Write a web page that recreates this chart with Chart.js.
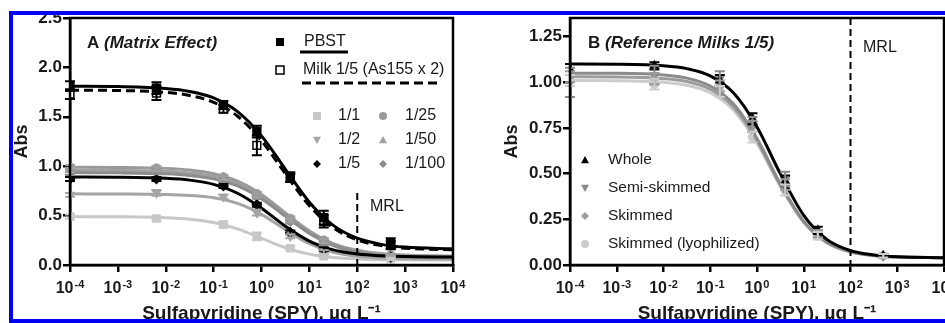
<!DOCTYPE html>
<html>
<head>
<meta charset="utf-8">
<script src="https://cdn.jsdelivr.net/npm/chart.js@4.4.1/dist/chart.umd.min.js"></script>
<style>
html, body { margin: 0; padding: 0; background: #fff; width: 945px; height: 323px; overflow: hidden; }
canvas { position: absolute; top: 0; }
#frame { position: absolute; left: 9px; top: 11px; width: 960px; height: 312px; border: 4px solid #0000f5; box-sizing: border-box; }
#cover { position: absolute; left: 0; top: 0; width: 945px; height: 11px; background: #fff; }
</style>
</head>
<body>
<canvas id="chartA" width="470" height="323" style="left:0"></canvas>
<canvas id="chartB" width="480" height="323" style="left:470px"></canvas>
<div id="cover"></div>
<div id="frame"></div>
<script>
"use strict";

// concentrations (µg/L)
const xTicks = [1e-4, 1e-3, 1e-2, 1e-1, 1, 10, 100, 1000, 10000];
const yTicksA = [0, 0.5, 1.0, 1.5, 2.0, 2.5];
const yTicksB = [0, 0.25, 0.5, 0.75, 1.0, 1.25];
const pointX = [1e-4, 0.0064, 0.16, 0.8, 4, 20, 500];
const curveX = [1e-4, 1e-3, 1e-2, 0.0316, 0.1, 0.316, 1, 3.16, 10, 31.6, 100, 316, 1000, 10000];
const mrl = 100;

// panel A - matrix effect
const fitPBST = [1.81, 1.806, 1.787, 1.757, 1.691, 1.552, 1.307, 0.969, 0.636, 0.401, 0.271, 0.209, 0.181, 0.164];
const fitMilk = [1.769, 1.766, 1.747, 1.716, 1.647, 1.506, 1.258, 0.923, 0.600, 0.376, 0.254, 0.196, 0.170, 0.154];
const fit1_1 = [0.490, 0.488, 0.479, 0.464, 0.430, 0.365, 0.270, 0.175, 0.110, 0.076, 0.061, 0.054, 0.052, 0.050];
const fit1_2 = [0.720, 0.719, 0.714, 0.704, 0.680, 0.623, 0.512, 0.357, 0.215, 0.128, 0.088, 0.071, 0.064, 0.061];
const fit1_5 = [0.890, 0.888, 0.877, 0.859, 0.816, 0.726, 0.575, 0.392, 0.242, 0.153, 0.111, 0.093, 0.085, 0.080];
const fit1_25 = [0.990, 0.988, 0.978, 0.961, 0.924, 0.848, 0.713, 0.526, 0.343, 0.213, 0.141, 0.107, 0.092, 0.082];
const fit1_50 = [0.960, 0.958, 0.948, 0.932, 0.897, 0.824, 0.695, 0.516, 0.341, 0.217, 0.149, 0.116, 0.101, 0.092];
const fit1_100 = [0.935, 0.933, 0.923, 0.907, 0.872, 0.800, 0.671, 0.494, 0.319, 0.196, 0.128, 0.096, 0.081, 0.072];

const ptsPBST = [1.81, 1.79, 1.62, 1.35, 0.89, 0.48, 0.22];
const errPBST = [0.05, 0.06, 0.04, 0.06, 0.05, 0.07, 0.05];
const ptsMilk = [1.73, 1.74, 1.58, 1.21, 0.88, 0.44, 0.20];
const errMilk = [0.05, 0.07, 0.04, 0.10, 0.04, 0.06, 0.04];
const pts1_1 = [0.49, 0.47, 0.41, 0.29, 0.17, 0.09, 0.06];
const err1_1 = [0.02, 0.02, 0.03, 0.04, 0.02, 0.02, 0.01];
const pts1_2 = [0.71, 0.73, 0.69, 0.53, 0.29, 0.13, 0.07];
const err1_2 = [0.02, 0.03, 0.02, 0.03, 0.02, 0.02, 0.01];
const pts1_5 = [0.87, 0.87, 0.80, 0.61, 0.33, 0.16, 0.08];
const err1_5 = [0.02, 0.02, 0.02, 0.02, 0.02, 0.02, 0.01];
const pts1_25 = [0.99, 0.98, 0.89, 0.72, 0.47, 0.25, 0.10];
const err1_25 = [0.02, 0.02, 0.02, 0.02, 0.02, 0.02, 0.01];
const pts1_50 = [0.96, 0.97, 0.88, 0.70, 0.45, 0.24, 0.10];
const err1_50 = [0.02, 0.02, 0.02, 0.02, 0.02, 0.02, 0.01];
const pts1_100 = [0.93, 0.95, 0.86, 0.69, 0.44, 0.22, 0.09];
const err1_100 = [0.02, 0.02, 0.02, 0.02, 0.02, 0.02, 0.01];

// panel B - reference milks 1/5
const fitWhole = [1.100, 1.099, 1.091, 1.075, 1.035, 0.941, 0.756, 0.499, 0.272, 0.139, 0.079, 0.055, 0.045, 0.040];
const fitSemi = [1.050, 1.049, 1.040, 1.023, 0.980, 0.881, 0.692, 0.445, 0.239, 0.124, 0.073, 0.052, 0.045, 0.040];
const fitSkim = [1.030, 1.029, 1.020, 1.004, 0.962, 0.864, 0.680, 0.437, 0.236, 0.122, 0.072, 0.052, 0.044, 0.040];
const fitLyo = [1.010, 1.009, 1.000, 0.984, 0.943, 0.847, 0.667, 0.429, 0.232, 0.120, 0.071, 0.052, 0.044, 0.040];

const ptsWhole = [1.07, 1.09, 1.01, 0.80, 0.46, 0.19, 0.05];
const errWhole = [0.03, 0.02, 0.03, 0.03, 0.03, 0.02, 0.01];
const ptsSemi = [1.00, 1.04, 1.02, 0.77, 0.47, 0.17, 0.05];
const errSemi = [0.08, 0.05, 0.04, 0.04, 0.04, 0.02, 0.01];
const ptsSkim = [1.03, 1.02, 0.98, 0.76, 0.44, 0.17, 0.05];
const errSkim = [0.03, 0.03, 0.03, 0.03, 0.03, 0.02, 0.01];
const ptsLyo = [1.01, 0.99, 0.95, 0.70, 0.41, 0.16, 0.05];
const errLyo = [0.03, 0.03, 0.03, 0.03, 0.03, 0.02, 0.01];

const FONT = '"Liberation Sans", Arial, Helvetica, sans-serif';
const INK = '#1a1a1a';

function zip(xs, ys) {
    return xs.map((x, i) => ({x: x, y: ys[i]}));
}

function curve(ys, color, dash) {
    return {
        type: 'line', data: zip(curveX, ys), borderColor: color, borderWidth: 3,
        borderDash: dash || [], pointRadius: 0, fill: false, cubicInterpolationMode: 'monotone'
    };
}

function points(ys, errs, color, style, radius, fill, rot) {
    return {
        type: 'scatter', data: zip(pointX, ys), errs: errs, borderColor: color,
        backgroundColor: fill || color, pointStyle: style, pointRadius: radius,
        pointBorderWidth: 1.5, pointRotation: rot || 0, showLine: false
    };
}

function marker(ctx, shape, x, y, r, fill, stroke) {
    ctx.beginPath();
    if (shape === 'rect') {
        ctx.rect(x - r, y - r, 2 * r, 2 * r);
    } else if (shape === 'tri') {
        ctx.moveTo(x, y - r); ctx.lineTo(x + r, y + r * 0.8); ctx.lineTo(x - r, y + r * 0.8); ctx.closePath();
    } else if (shape === 'tridown') {
        ctx.moveTo(x, y + r); ctx.lineTo(x + r, y - r * 0.8); ctx.lineTo(x - r, y - r * 0.8); ctx.closePath();
    } else if (shape === 'diamond') {
        ctx.moveTo(x, y - r); ctx.lineTo(x + r, y); ctx.lineTo(x, y + r); ctx.lineTo(x - r, y); ctx.closePath();
    } else {
        ctx.arc(x, y, r, 0, Math.PI * 2);
    }
    ctx.fillStyle = fill;
    ctx.fill();
    if (stroke) {
        ctx.strokeStyle = stroke;
        ctx.lineWidth = 1.5;
        ctx.stroke();
    }
}

const errorBars = {
    id: 'errorBars',
    afterDatasetsDraw(chart) {
        const ctx = chart.ctx, ys = chart.scales.y;
        ctx.save();
        chart.data.datasets.forEach((ds, i) => {
            if (!ds.errs) return;
            const meta = chart.getDatasetMeta(i);
            ctx.strokeStyle = ds.borderColor;
            ctx.lineWidth = 2;
            meta.data.forEach((pt, j) => {
                const v = ds.data[j].y, e = ds.errs[j];
                const top = ys.getPixelForValue(v + e), bot = ys.getPixelForValue(v - e);
                ctx.beginPath();
                ctx.moveTo(pt.x, top); ctx.lineTo(pt.x, bot);
                ctx.moveTo(pt.x - 5, top); ctx.lineTo(pt.x + 5, top);
                ctx.moveTo(pt.x - 5, bot); ctx.lineTo(pt.x + 5, bot);
                ctx.stroke();
            });
        });
        ctx.restore();
    }
};

// frame + power-of-ten tick labels with raised exponents
const boxFrame = {
    id: 'boxFrame',
    afterDraw(chart) {
        const a = chart.chartArea, ctx = chart.ctx, xs = chart.scales.x;
        ctx.save();
        ctx.strokeStyle = '#000';
        ctx.lineWidth = 2.5;
        ctx.strokeRect(a.left, a.top, a.right - a.left, a.bottom - a.top);
        ctx.fillStyle = INK;
        ctx.textBaseline = 'alphabetic';
        ctx.textAlign = 'left';
        xTicks.forEach(v => {
            const base = '10', exp = String(Math.round(Math.log10(v)));
            ctx.font = 'bold 16px ' + FONT;
            const wb = ctx.measureText(base).width;
            ctx.font = 'bold 11px ' + FONT;
            const we = ctx.measureText(exp).width;
            const x0 = xs.getPixelForValue(v) - (wb + we + 1) / 2;
            ctx.font = 'bold 16px ' + FONT;
            ctx.fillText(base, x0, a.bottom + 28);
            ctx.font = 'bold 11px ' + FONT;
            ctx.fillText(exp, x0 + wb + 1, a.bottom + 23);
        });
        ctx.restore();
    }
};

function drawTitle(ctx, head, tail, x, y) {
    ctx.font = 'bold 17px ' + FONT;
    ctx.fillStyle = INK;
    ctx.textBaseline = 'middle';
    ctx.textAlign = 'left';
    ctx.fillText(head, x, y);
    const w = ctx.measureText(head).width;
    ctx.font = 'italic bold 17px ' + FONT;
    ctx.fillText(tail, x + w, y);
}

function drawMRL(chart, fromValue, labelX, labelY) {
    const ctx = chart.ctx;
    const px = chart.scales.x.getPixelForValue(mrl);
    const top = fromValue === null ? chart.chartArea.top : chart.scales.y.getPixelForValue(fromValue);
    ctx.save();
    ctx.strokeStyle = '#000';
    ctx.lineWidth = 2;
    ctx.setLineDash([7, 4]);
    ctx.beginPath();
    ctx.moveTo(px, top);
    ctx.lineTo(px, chart.chartArea.bottom);
    ctx.stroke();
    ctx.setLineDash([]);
    ctx.font = '16px ' + FONT;
    ctx.fillStyle = INK;
    ctx.textBaseline = 'middle';
    ctx.fillText('MRL', labelX, labelY);
    ctx.restore();
}

const decorA = {
    id: 'decorA',
    afterDraw(chart) {
        const ctx = chart.ctx;
        ctx.save();
        drawMRL(chart, 0.73, 370, 207);
        drawTitle(ctx, 'A ', '(Matrix Effect)', 87, 43);
        ctx.textBaseline = 'middle';
        marker(ctx, 'rect', 280, 42, 4, '#000');
        marker(ctx, 'rect', 280, 70, 4, '#fff', '#000');
        ctx.font = '16px ' + FONT;
        ctx.fillStyle = INK;
        ctx.fillText('PBST', 304, 42);
        ctx.fillText('Milk 1/5 (As155 x 2)', 303, 70);
        ctx.strokeStyle = '#000';
        ctx.lineWidth = 3;
        ctx.beginPath(); ctx.moveTo(300, 52); ctx.lineTo(348, 52); ctx.stroke();
        ctx.setLineDash([9, 5]);
        ctx.beginPath(); ctx.moveTo(302, 83); ctx.lineTo(442, 83); ctx.stroke();
        ctx.setLineDash([]);
        const rows = [
            ['rect', '#c8c8c8', '1/1', 'circle', '#9a9a9a', '1/25'],
            ['tridown', '#a5a5a5', '1/2', 'tri', '#a0a0a0', '1/50'],
            ['diamond', '#000', '1/5', 'diamond', '#8c8c8c', '1/100']
        ];
        rows.forEach((r, i) => {
            const y = 116 + i * 24;
            marker(ctx, r[0], 317, y, 4, r[1]);
            marker(ctx, r[3], 383, y, 4, r[4]);
            ctx.fillStyle = INK;
            ctx.fillText(r[2], 338, y);
            ctx.fillText(r[5], 405, y);
        });
        ctx.restore();
    }
};

const decorB = {
    id: 'decorB',
    afterDraw(chart) {
        const ctx = chart.ctx;
        ctx.save();
        drawMRL(chart, null, 393, 48);
        drawTitle(ctx, 'B ', '(Reference Milks 1/5)', 118, 43);
        ctx.font = '15.5px ' + FONT;
        ctx.textBaseline = 'middle';
        const rows = [
            ['tri', '#000', 'Whole'],
            ['tridown', '#8a8a8a', 'Semi-skimmed'],
            ['diamond', '#9c9c9c', 'Skimmed'],
            ['circle', '#cccccc', 'Skimmed (lyophilized)']
        ];
        const ys = [160, 188, 216, 244];
        rows.forEach((r, i) => {
            marker(ctx, r[0], 115, ys[i], 4, r[1]);
            ctx.fillStyle = INK;
            ctx.fillText(r[2], 138, ys[i]);
        });
        ctx.restore();
    }
};

function options(yMax, yTicks, decimals, yWidth, padRight, yTitlePad) {
    return {
        responsive: false,
        animation: false,
        layout: {padding: {left: 0, right: padRight, top: 18, bottom: 0}},
        plugins: {legend: {display: false}, tooltip: {enabled: false}},
        scales: {
            x: {
                type: 'logarithmic', min: 1e-4, max: 1e4,
                afterBuildTicks: s => { s.ticks = xTicks.map(v => ({value: v})); },
                afterFit: s => { s.height = 58; s.paddingLeft = 0; s.paddingRight = 0; },
                grid: {drawOnChartArea: false, drawTicks: true, tickLength: 7, color: '#000', lineWidth: 2.5},
                border: {display: true, color: '#000', width: 2.5},
                ticks: {display: false},
                title: {
                    display: true, text: 'Sulfapyridine (SPY), \u00B5g L\u207B\u00B9', color: INK,
                    font: {family: FONT, size: 19, weight: 'bold', lineHeight: 1}, padding: {top: 0, bottom: 0}
                }
            },
            y: {
                min: 0, max: yMax,
                afterBuildTicks: s => { s.ticks = yTicks.map(v => ({value: v})); },
                afterFit: s => { s.width = yWidth; s.paddingTop = 0; s.paddingBottom = 0; },
                grid: {drawOnChartArea: false, drawTicks: true, tickLength: 7, color: '#000', lineWidth: 2.5},
                border: {display: true, color: '#000', width: 2.5},
                ticks: {
                    color: INK, padding: 1,
                    font: {family: FONT, size: 17, weight: 'bold'},
                    callback: v => v.toFixed(decimals)
                },
                title: {
                    display: true, text: 'Abs', color: INK,
                    font: {family: FONT, size: 18, weight: 'bold', lineHeight: 1}, padding: {top: yTitlePad, bottom: 0}
                }
            }
        }
    };
}

new Chart(document.getElementById('chartA'), {
    data: {
        datasets: [
            curve(fitPBST, '#000'),
            curve(fitMilk, '#000', [9, 5]),
            curve(fit1_5, '#000'),
            curve(fit1_100, '#8c8c8c'),
            curve(fit1_25, '#9a9a9a'),
            curve(fit1_50, '#a0a0a0'),
            curve(fit1_2, '#a5a5a5'),
            curve(fit1_1, '#c8c8c8'),
            points(ptsPBST, errPBST, '#000', 'rect', 5.5),
            points(ptsMilk, errMilk, '#000', 'rect', 5.5, '#fff'),
            points(pts1_5, err1_5, '#000', 'rectRot', 4.5),
            points(pts1_100, err1_100, '#8c8c8c', 'rectRot', 4.5),
            points(pts1_25, err1_25, '#9a9a9a', 'circle', 4),
            points(pts1_50, err1_50, '#a0a0a0', 'triangle', 4.5),
            points(pts1_2, err1_2, '#a5a5a5', 'triangle', 4.5, null, 180),
            points(pts1_1, err1_1, '#c8c8c8', 'rect', 5)
        ]
    },
    options: options(2.5, yTicksA, 1, 70, 17, 13),
    plugins: [errorBars, boxFrame, decorA]
});

new Chart(document.getElementById('chartB'), {
    data: {
        datasets: [
            curve(fitWhole, '#000'),
            curve(fitSemi, '#8a8a8a'),
            curve(fitSkim, '#9c9c9c'),
            curve(fitLyo, '#cccccc'),
            points(ptsWhole, errWhole, '#000', 'triangle', 4.5),
            points(ptsSemi, errSemi, '#8a8a8a', 'triangle', 4.5, null, 180),
            points(ptsSkim, errSkim, '#9c9c9c', 'rectRot', 4.5),
            points(ptsLyo, errLyo, '#cccccc', 'circle', 4)
        ]
    },
    options: options(1.352, yTicksB, 2, 100, 6, 33),
    plugins: [errorBars, boxFrame, decorB]
});
</script>
</body>
</html>
